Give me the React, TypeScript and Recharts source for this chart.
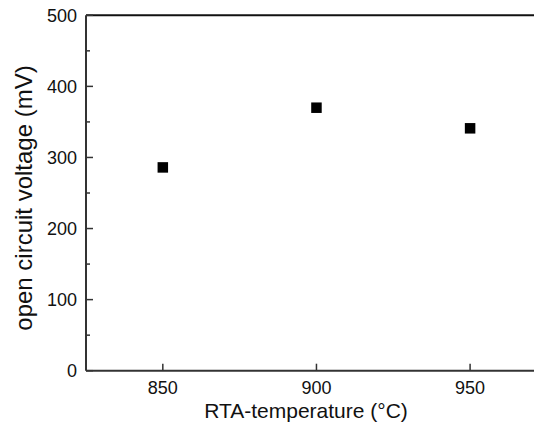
import React from 'react';
import { ScatterChart, Scatter, XAxis, YAxis, ReferenceLine, Label } from 'recharts';

const temperatures = [850, 900, 950];
const openCircuitVoltage = [286, 370, 341];
const xTicks = [850, 900, 950];
const yTicks = [0, 50, 100, 150, 200, 250, 300, 350, 400, 450, 500];
const xTitle = 'RTA-temperature (°C)';
const yTitle = 'open circuit voltage (mV)';

const data = temperatures.map((t, i) => ({ t, v: openCircuitVoltage[i] }));

const FONT = '"Liberation Sans", Arial, sans-serif';
const AXIS = '#333';

const YTick = (props: any) => {
  const { x, y, payload } = props;
  const major = payload.value % 100 === 0;
  return (
    <g>
      <line x1={x} x2={x + (major ? 7 : 4)} y1={y} y2={y} stroke={AXIS} strokeWidth={1.5} />
      {major && (
        <text x={x - 9} y={y} dy="0.35em" textAnchor="end" fontSize={18} fontFamily={FONT} fill="#111">
          {payload.value}
        </text>
      )}
    </g>
  );
};

const XTick = (props: any) => {
  const { x, y, payload } = props;
  return (
    <g>
      <line x1={x} x2={x} y1={y} y2={y - 7} stroke={AXIS} strokeWidth={1.5} />
      <text x={x} y={y + 23} textAnchor="middle" fontSize={18} fontFamily={FONT} fill="#111">
        {payload.value}
      </text>
    </g>
  );
};

const Square = (props: any) => {
  const { cx, cy } = props;
  const s = 10.5;
  return <rect x={cx - s / 2} y={cy - s / 2} width={s} height={s} fill="#000" />;
};

export default function App() {
  return (
    <div style={{ width: 534, height: 420, overflow: 'hidden' }}>
      <style>{'html,body{overflow:hidden;}'}</style>
      <ScatterChart
        width={534}
        height={420}
        margin={{ top: 7.3, right: 0, bottom: 7.3, left: 0 }}
      >
        <XAxis
          type="number"
          dataKey="t"
          domain={[825, 973.4]}
          ticks={xTicks}
          tick={<XTick />}
          tickLine={false}
          tickSize={0}
          tickMargin={0}
          height={50}
          axisLine={{ stroke: AXIS, strokeWidth: 2 }}
        >
          <Label
            content={(p: any) => {
              const vb = p.viewBox;
              return (
                <text x={298} y={vb.y + 47} textAnchor="middle" fontSize={21} fontFamily={FONT} fill="#111">
                  {xTitle}
                </text>
              );
            }}
          />
        </XAxis>
        <YAxis
          type="number"
          dataKey="v"
          domain={[0, 500]}
          ticks={yTicks}
          tick={<YTick />}
          tickLine={false}
          tickSize={0}
          tickMargin={0}
          width={78}
          axisLine={{ stroke: AXIS, strokeWidth: 2 }}
          interval={0}
        >
          <Label
            content={() => (
              <text
                x={24}
                y={190}
                transform="rotate(-90 24 190)"
                textAnchor="middle"
                fontSize={24}
                fontFamily={FONT}
                fill="#111"
              >
                {yTitle}
              </text>
            )}
          />
        </YAxis>
        <ReferenceLine y={500} stroke="#111" strokeWidth={2} ifOverflow="visible" />
        <Scatter data={data} shape={<Square />} isAnimationActive={false} />
      </ScatterChart>
    </div>
  );
}
